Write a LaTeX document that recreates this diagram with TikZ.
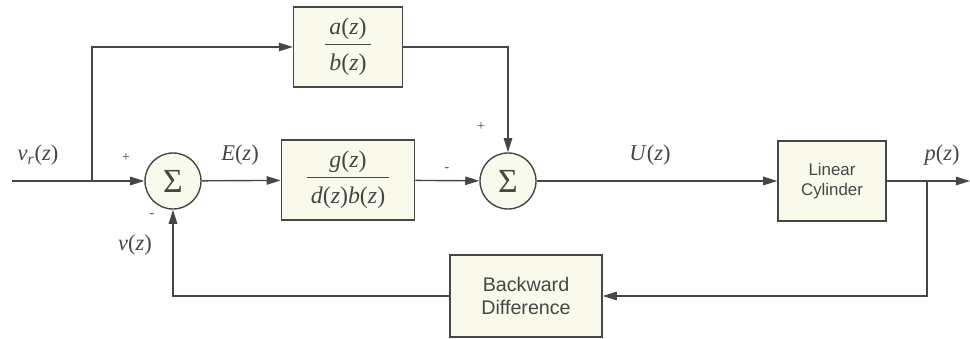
\documentclass[tikz,border=0pt]{standalone}
\usepackage{fontspec}
\setmainfont{Liberation Serif}
\setsansfont{Liberation Sans}
\usetikzlibrary{arrows.meta,positioning}
\definecolor{boxfill}{RGB}{250,250,236}
\definecolor{linegray}{RGB}{70,70,70}
\newcommand{\ofz}[1]{\textit{#1}(\textit{z})}
\newcommand{\fracbox}[2]{\begin{tabular}{@{\,}c@{\,}}#1\\[1pt]\hline\rule{0pt}{1.1em}#2\end{tabular}}

\begin{document}
\begin{tikzpicture}[x=0.025cm, y=-0.025cm,
    block/.style={draw=linegray, rectangle, fill=boxfill, line width=1pt, minimum height=2cm, text centered, align=center, text=linegray, font=\sffamily\fontsize{12}{14}\selectfont},
    sum/.style={draw=linegray, circle, fill=boxfill, line width=1pt, minimum size=1.4cm, inner sep=0pt, text=linegray, font=\fontsize{24}{28}\selectfont},
    arrow/.style={-{Triangle[length=10pt,width=6pt]}, line width=1pt, draw=linegray},
    line/.style={line width=1pt, draw=linegray},
    lbl/.style={font=\fontsize{16}{19}\selectfont, text=linegray},
    sign/.style={font=\normalsize, text=linegray}
]
    \useasboundingbox (0,0) rectangle (970,339);

    % blocks
    \node [block, minimum width=2.72cm, font=\fontsize{17}{20}\selectfont] (ab) at (348,47) {\fracbox{\ofz{a}}{\ofz{b}}};
    \node [block, minimum width=3.33cm, font=\fontsize{17}{20}\selectfont] (gdb) at (348,180) {\fracbox{\ofz{g}}{\ofz{d}\ofz{b}}};
    \node [block, minimum width=2.7cm] (cyl) at (832,181) {Linear\\Cylinder};
    \node [block, minimum width=3.8cm, minimum height=2.05cm, font=\sffamily\fontsize{14}{17}\selectfont] (diff) at (526,296) {Backward\\Difference};

    % summing junctions
    \node [sum] (sum1) at (173,181) {Σ};
    \node [sum] (sum2) at (508,181) {Σ};

    % branch points
    \coordinate (in) at (12,181);
    \coordinate (split) at (92,181);
    \coordinate (tap) at (927,181);
    \coordinate (out) at (970,181);

    \draw [line] (in) -- (split);
    \draw [arrow] (split) -- (sum1);
    \draw [arrow] (split) |- (ab);
    \draw [arrow] (sum1) -- (gdb);
    \draw [arrow] (gdb) -- (sum2);
    \draw [arrow] (ab) -| (sum2);
    \draw [arrow] (sum2) -- (cyl);
    \draw [line] (cyl) -- (tap);
    \draw [arrow] (tap) -- (out);
    \draw [arrow] (tap) |- (diff);
    \draw [arrow] (diff) -| (sum1);

    % signal labels
    \node [lbl] (vr) at (38,155) {\textit{v}\textsubscript{\textit{r}}(\textit{z})};
    \node [lbl] (e) at (240,155) {\ofz{E}};
    \node [lbl] (u) at (650,155) {\ofz{U}};
    \node [lbl] (p) at (942,155) {\ofz{p}};
    \node [lbl] (v) at (135,245) {\ofz{v}};

    % signs
    \node [sign] (s1p) at (126,158) {+};
    \node [sign] (s1m) at (152,216) {-};
    \node [sign] (s2p) at (481,127) {+};
    \node [sign] (s2m) at (447,170) {-};

\end{tikzpicture}
\end{document}
